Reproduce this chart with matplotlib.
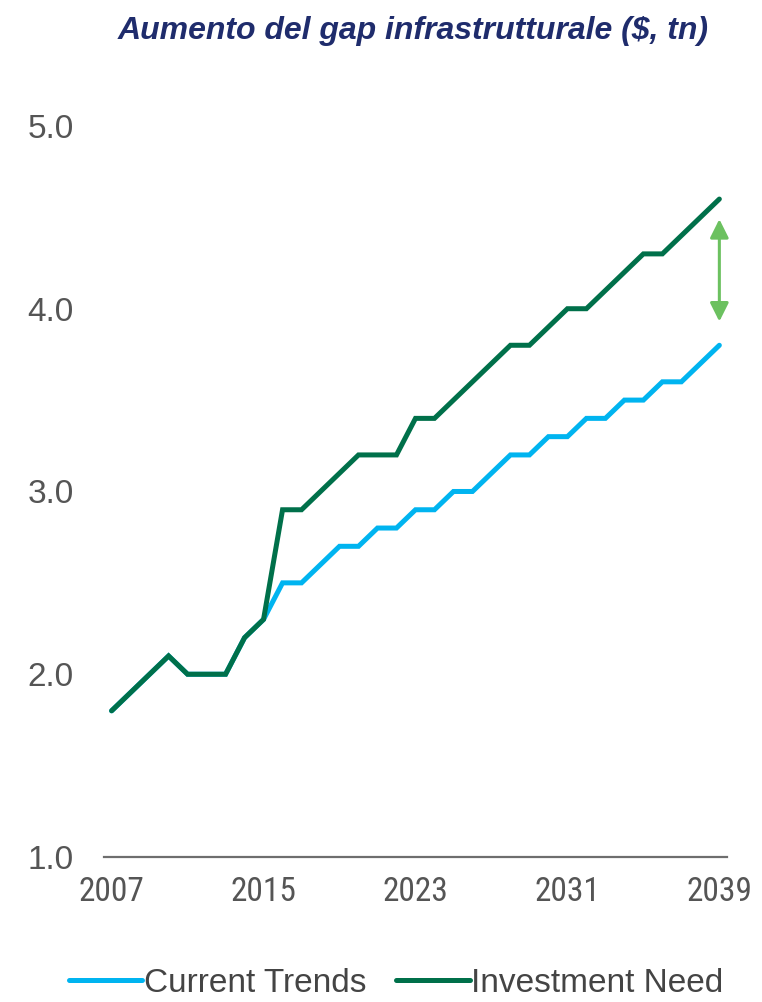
import matplotlib
matplotlib.use("Agg")
import matplotlib.pyplot as plt
from matplotlib import font_manager

# anni e valori ($, tn)
anni = list(range(2007, 2040))
current_trends = [1.8, 1.9, 2.0, 2.1, 2.0, 2.0, 2.0, 2.2, 2.3, 2.5,
                  2.5, 2.6, 2.7, 2.7, 2.8, 2.8, 2.9, 2.9, 3.0, 3.0,
                  3.1, 3.2, 3.2, 3.3, 3.3, 3.4, 3.4, 3.5, 3.5, 3.6,
                  3.6, 3.7, 3.8]
investment_need = [1.8, 1.9, 2.0, 2.1, 2.0, 2.0, 2.0, 2.2, 2.3, 2.9,
                   2.9, 3.0, 3.1, 3.2, 3.2, 3.2, 3.4, 3.4, 3.5, 3.6,
                   3.7, 3.8, 3.8, 3.9, 4.0, 4.0, 4.1, 4.2, 4.3, 4.3,
                   4.4, 4.5, 4.6]
tick_anni = [2007, 2015, 2023, 2031, 2039]
tick_valori = [1.0, 2.0, 3.0, 4.0, 5.0]

plt.rcParams['font.family'] = ['Liberation Sans', 'DejaVu Sans']

# font stretto per gli anni, se presente
nomi = {f.name for f in font_manager.fontManager.ttflist}
stretto = None
for n in ['Liberation Sans Narrow', 'Roboto Condensed', 'Open Sans Condensed',
          'Noto Sans Condensed', 'DejaVu Sans Condensed']:
    if n in nomi:
        stretto = n
        break
if stretto is None:
    condensed = [f for f in font_manager.fontManager.ttflist
                 if f.stretch in ('condensed', 'semi-condensed', 'extra-condensed')]
    if condensed:
        stretto = condensed[0].name

fig = plt.figure(figsize=(7.62, 10.02), dpi=100)
ax = fig.add_axes([0.1365, 0.1447, 0.8175, 0.7296])

ax.plot(anni, current_trends, color='#00b4f0', lw=3.6, label='Current Trends',
        solid_capstyle='round', solid_joinstyle='miter')
ax.plot(anni, investment_need, color='#00704a', lw=3.6, label='Investment Need',
        solid_capstyle='round', solid_joinstyle='miter')

# freccia del gap
ax.annotate('', xy=(2039, 3.93), xytext=(2039, 4.49),
            arrowprops=dict(arrowstyle='<|-|>', color='#6cc160', lw=2.2,
                            mutation_scale=28, shrinkA=0, shrinkB=0))

ax.set_xlim(2006.6, 2039.4)
ax.set_ylim(1.0, 5.0)
ax.set_xticks(tick_anni)
if stretto:
    ax.set_xticklabels([str(a) for a in tick_anni], family=[stretto, 'Liberation Sans'],
                       fontsize=24)
else:
    ax.set_xticklabels([str(a) for a in tick_anni], fontsize=21)
ax.set_yticks(tick_valori)
ax.set_yticklabels([f'{v:.1f}' for v in tick_valori])

for s in ['top', 'right', 'left']:
    ax.spines[s].set_visible(False)
ax.spines['bottom'].set_color('#6e6e6e')
ax.spines['bottom'].set_linewidth(1.6)
ax.tick_params(axis='x', length=0, pad=14, labelcolor='#555555')
ax.tick_params(axis='y', length=0, pad=22, labelsize=24, labelcolor='#555555')

fig.text(0.542, 0.969, 'Aumento del gap infrastrutturale ($, tn)',
         ha='center', va='center', fontsize=23, fontweight='bold',
         fontstyle='italic', color='#1f2c6c')

leg = fig.legend(loc='lower center', bbox_to_anchor=(0.52, -0.027), ncol=2,
                 frameon=False, fontsize=24, handlelength=2.2,
                 handletextpad=0.05, columnspacing=0.9)
for t in leg.get_texts():
    t.set_color('#444444')

fig.savefig('out.png', dpi=100)
